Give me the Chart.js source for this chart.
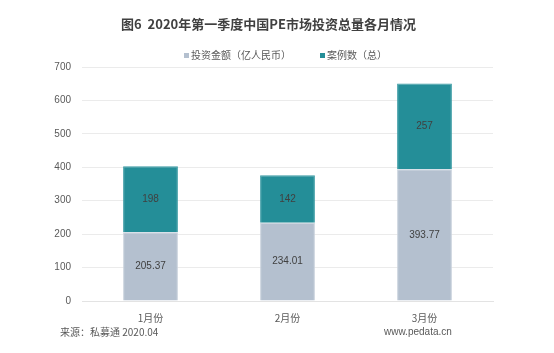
<!DOCTYPE html>
<html>
<head>
<meta charset="utf-8">
<script src="https://cdn.jsdelivr.net/npm/chart.js@4"></script>
<style>
  html, body { margin: 0; padding: 0; background: #fff; }
  #wrap { position: relative; width: 554px; height: 353px; font-family: "Noto Sans CJK SC", "Noto Sans", sans-serif; color: #595959; }
  #title { position: absolute; left: 0; width: 537px; top: 15px; line-height: 18px; text-align: center; font-size: 13px; font-weight: bold; color: #404040; }
  .leg { position: absolute; top: 48px; font-size: 10px; line-height: 14px; }
  .leg i { display: inline-block; width: 5px; height: 5px; margin-right: 2px; vertical-align: 1px; }
  .foot { position: absolute; top: 325px; font-size: 10px; line-height: 14px; }
  canvas { position: absolute; left: 0; top: 0; }
</style>
</head>
<body>
<div id="wrap">
  <canvas id="c" width="554" height="353"></canvas>
  <div id="title">图6&nbsp;&nbsp;2020年第一季度中国PE市场投资总量各月情况</div>
  <div class="leg" style="left:184px"><i style="background:#b4c0cf"></i>投资金额（亿人民币）</div>
  <div class="leg" style="left:320px"><i style="background:#248e98"></i>案例数（总）</div>
  <div class="foot" style="left:60px">来源：私募通 2020.04</div>
  <div class="foot" style="left:384px; font-family: 'Liberation Sans', Arial, sans-serif;">www.pedata.cn</div>
</div>
<script>
// 2020年第一季度 PE 投资
const months = ['1月份', '2月份', '3月份'];
const amount = [205.37, 234.01, 393.77];   // 亿人民币
const cases = [198, 142, 257];             // 案例数
const yTicks = [0, 100, 200, 300, 400, 500, 600, 700];

const GRIS = '#b4c0cf', TEAL = '#248e98';

// valeurs au milieu de chaque segment
const barLabels = {
  id: 'barLabels',
  afterDatasetsDraw(chart) {
    const ctx = chart.ctx;
    ctx.save();
    ctx.font = '10px "Liberation Sans", Arial, sans-serif';
    ctx.fillStyle = '#404040';
    ctx.textAlign = 'center';
    ctx.textBaseline = 'middle';
    chart.data.datasets.forEach((ds, i) => {
      chart.getDatasetMeta(i).data.forEach((bar, j) => {
        const mid = (bar.y + bar.base) / 2;
        ctx.fillText(String(ds.data[j]), bar.x, mid);
      });
    });
    ctx.restore();
  }
};

new Chart(document.getElementById('c'), {
  type: 'bar',
  data: {
    labels: months,
    datasets: [
      { label: '投资金额（亿人民币）', data: amount, backgroundColor: GRIS, borderColor: '#c9d2dd', borderWidth: 1 },
      { label: '案例数（总）', data: cases, backgroundColor: TEAL, borderColor: '#3a9ba4', borderWidth: 1 }
    ]
  },
  options: {
    responsive: false,
    animation: false,
    categoryPercentage: 1,
    barPercentage: 0.4,
    layout: { padding: { left: 42, right: 61, top: 67, bottom: 22 } },
    plugins: { legend: { display: false }, title: { display: false }, tooltip: { enabled: false } },
    scales: {
      x: {
        stacked: true,
        grid: { display: false },
        border: { color: '#e3e3e3' },
        ticks: { color: '#595959', font: { size: 10, family: '"Noto Sans CJK SC", sans-serif' }, padding: 3 },
        afterFit(s) { s.height = 30; }
      },
      y: {
        stacked: true,
        min: 0, max: 700,
        afterBuildTicks(s) { s.ticks = yTicks.map(v => ({ value: v })); },
        grid: { color: '#ebebeb', drawTicks: false },
        border: { display: false },
        ticks: { color: '#595959', font: { size: 10, family: '"Liberation Sans", Arial, sans-serif' }, padding: 11 },
        afterFit(s) { s.width = 40; }
      }
    }
  },
  plugins: [barLabels]
});
</script>
</body>
</html>
